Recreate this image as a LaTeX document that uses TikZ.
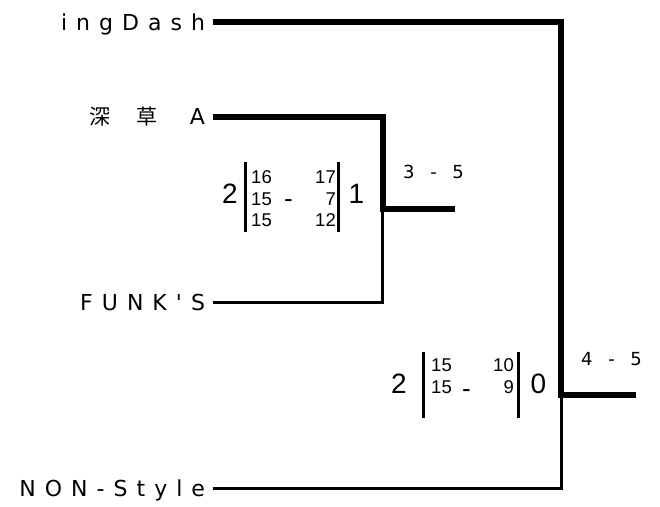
\documentclass[tikz,border=0pt]{standalone}
\usepackage{fontspec}
\usepackage{tikz}
\usetikzlibrary{positioning}
\newfontfamily\teamfont[LetterSpace=41,Ligatures=TeXOff]{DejaVu Sans}
\newfontfamily\teamcjk[LetterSpace=41]{Noto Sans CJK JP}
\newfontfamily\roundfont[LetterSpace=55]{DejaVu Sans}
\newfontfamily\scorefont{Liberation Sans}

\begin{document}
\begin{tikzpicture}[x=1pt, y=-1pt,
    team/.style={anchor=east, inner sep=0pt, outer xsep=8pt, text height=16pt, text depth=0pt,
      font=\teamfont\fontsize{22}{24}\selectfont},
    win/.style={line width=6pt},
    lose/.style={line width=3pt},
    bar/.style={line width=2.6pt},
    big/.style={anchor=base west, inner sep=0pt, font=\scorefont\fontsize{28}{30}\selectfont},
    small/.style={anchor=base east, inner sep=0pt, font=\scorefont\fontsize{18.5}{20}\selectfont},
    hyph/.style={anchor=base, inner sep=0pt, font=\scorefont\fontsize{26}{28}\selectfont},
    rnd/.style={anchor=base west, inner sep=0pt, font=\roundfont\fontsize{18}{20}\selectfont}
  ]
    \useasboundingbox (0,0) rectangle (660,506);

    % teams
    \node[team] (ing) at (213,22) {ingDash};
    \node[team] (fuk) at (213,116.5) {{\teamcjk\fontsize{21}{22}\selectfont 深\hspace{26pt}草}\hspace{32pt}A};
    \node[team] (fnk) at (213,302) {FUNK'S};
    \node[team] (non) at (213,488) {NON-Style};

    \coordinate (semi) at (382.5,209);
    \coordinate (fin) at (561,395);
    \coordinate (semiw) at (455,209);
    \coordinate (finw) at (636,395);

    % bracket
    \draw[lose] (fnk.east) -| (semi);
    \draw[win] (fuk.east) -| (semi) -- (semiw);
    \draw[lose] (non.east) -| (fin);
    \draw[win] (ing.east) -| (fin) -- (finw);

    % semifinal score
    \node[big] (sa) at (222,203) {2};
    \draw[bar] (245.5,162) -- (245.5,232);
    \node[small] (sa1) at (272,183.3) {16};
    \node[small] (sa2) at (272,205) {15};
    \node[small] (sa3) at (272,226.7) {15};
    \node[hyph] (sad) at (288.5,207) {-};
    \node[small] (sb1) at (336,183.3) {17};
    \node[small] (sb2) at (336,205) {7};
    \node[small] (sb3) at (336,226.7) {12};
    \draw[bar] (338.5,162) -- (338.5,232);
    \node[big] (sb) at (348.5,203) {1};
    \node[rnd] (rsemi) at (403,178) {3 - 5};

    % final score
    \node[big] (fa) at (391,393.3) {2};
    \draw[bar] (423.3,352) -- (423.3,418.3);
    \node[small] (fa1) at (452,371.7) {15};
    \node[small] (fa2) at (452,393.3) {15};
    \node[hyph] (fad) at (466.5,397) {-};
    \node[small] (fb1) at (514,371.7) {10};
    \node[small] (fb2) at (514,393.3) {9};
    \draw[bar] (518.3,352) -- (518.3,418.3);
    \node[big] (fb) at (530.5,393.3) {0};
    \node[rnd] (rfin) at (581,365) {4 - 5};
\end{tikzpicture}
\end{document}
